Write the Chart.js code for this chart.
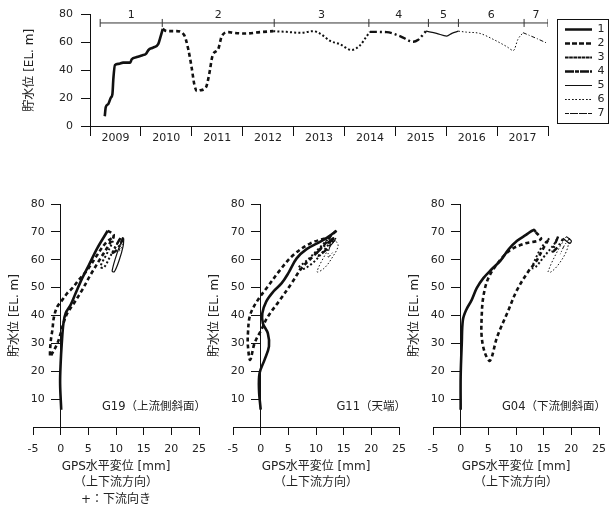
<!DOCTYPE html>
<html>
<head>
<meta charset="utf-8">
<script src="https://cdn.jsdelivr.net/npm/chart.js@4.4.0/dist/chart.umd.min.js"></script>
<style>
html, body { margin: 0; padding: 0; background: #fff; }
body { width: 609px; height: 511px; position: relative; overflow: hidden; }
canvas { position: absolute; }
</style>
</head>
<body>
<canvas id="level" width="609" height="150" style="left:0;top:0;width:609px;height:150px"></canvas>
<canvas id="g19" width="209" height="321" style="left:0;top:190px;width:209px;height:321px"></canvas>
<canvas id="g11" width="209" height="321" style="left:200px;top:190px;width:209px;height:321px"></canvas>
<canvas id="g04" width="209" height="321" style="left:400px;top:190px;width:209px;height:321px"></canvas>
<script>
// 貯水位の時系列 [年, EL. m]（期間1〜7）
const lv1 = [[2009.29,7],[2009.31,13.5],[2009.36,15.8],[2009.41,20.4],[2009.44,22.8],[2009.46,34.4],[2009.49,43.7],[2009.56,44.6],[2009.65,45.5],[2009.79,45.5],[2009.82,47.9],[2009.92,49.5],[2010.02,50.7],[2010.10,51.8],[2010.15,54.6],[2010.24,56.3],[2010.34,58.8],[2010.39,64.6],[2010.43,69.7]];
const lv2 = [[2010.43,69.7],[2010.51,68.1],[2010.70,68.1],[2010.85,65.3],[2010.93,55.3],[2011.00,41.4],[2011.05,29.8],[2011.10,25.1],[2011.16,25.6],[2011.28,27.9],[2011.34,36.7],[2011.41,50.7],[2011.52,55.3],[2011.59,64.6],[2011.72,67.4],[2011.82,66.9],[2012.05,66.4],[2012.34,67.4],[2012.60,68.1]];
const lv3 = [[2012.60,68.1],[2012.86,67.6],[2013.13,66.9],[2013.39,68.1],[2013.52,66.4],[2013.72,61.1],[2013.91,58.8],[2014.14,54.6],[2014.30,57.7],[2014.44,64.6],[2014.50,67.6]];
const lv4 = [[2014.50,67.6],[2014.83,67.4],[2015.09,64.6],[2015.35,60.5],[2015.45,61.9],[2015.52,64.6],[2015.60,68.1]];
const lv5 = [[2015.60,68.1],[2015.81,66.5],[2016.01,64.6],[2016.11,66.5],[2016.24,68.1]];
const lv6 = [[2016.24,68.1],[2016.40,67.4],[2016.66,66.5],[2016.92,62.3],[2017.19,57],[2017.32,54.2],[2017.41,62.3],[2017.51,67]];
const lv7 = [[2017.51,67],[2017.78,62.8],[2017.98,59.5]];

// 期間の区切り
const periodEdges = [2009.2, 2010.42, 2012.62, 2014.48, 2015.65, 2016.24, 2017.53, 2018.0];
const periodNames = ['1', '2', '3', '4', '5', '6', '7'];
const periodBarLevel = 74;
const years = [2009, 2010, 2011, 2012, 2013, 2014, 2015, 2016, 2017];

// GPS水平変位 [mm] と 貯水位 [EL. m]
const g19_1 = [[0.1,6.2],[-0.1,15.7],[0,23],[0.2,30],[0.5,37.2],[0.9,40.8],[1.8,43.8],[2.7,48],[3.9,53.4],[5.1,58.1],[6.6,64.1],[8.5,70.4]];
const g19_2 = [[8.5,70.4],[9.6,68.9],[8.7,65.3],[7.2,60.5],[5.4,54.6],[3.9,49.2],[2.4,44.4],[1.2,40.8],[0.5,37.2],[0,33.6],[-0.6,30],[-1.5,26.5],[-1.9,25.3],[-1.8,30.6],[-1.5,34.8],[-1.2,39.6],[-0.6,43.2],[0.3,45.6],[1.2,48],[2.1,49.8],[3.3,52.8],[4.8,56.3],[6.6,61.7],[8.1,65.9],[9.6,68.3]];
const g19_3 = [[9.6,68.3],[9.3,66],[8.3,62],[7.2,57.5],[7.8,57.2],[8.9,61],[10,65],[10.8,67.8]];
const g19_4 = [[10.8,67.8],[10.0,65],[9.4,62.5],[10.1,63.5],[11,66.5],[11.3,68]];
const g19_5 = [[11.3,68],[10.3,63],[9.3,56],[9.7,55.7],[10.6,60],[11.3,65],[11.4,67.5]];
const g19_6 = [[11.4,67.5],[10.8,66],[10.5,63],[11,64.5],[11.2,67]];
const g19_7 = [[11.2,67],[10.9,65.5],[10.6,63.5]];

const g11_1 = [[0,6.2],[-0.3,13.3],[-0.2,19.3],[0.7,24.1],[1.5,28.9],[1.3,33.6],[0.4,37.2],[0.3,40.8],[1.0,45],[2.3,48.6],[3.8,51.6],[5,55.2],[6.5,60.5],[8.3,63.8],[10.8,66.5],[12.3,68.3],[13.7,70.4]];
const g11_2 = [[13.7,70.4],[12.4,68.3],[9,65.9],[5.9,61.7],[3.5,56.3],[1.3,50.4],[-0.5,45.6],[-1.9,40.2],[-2.3,33.6],[-2.3,29],[-1.9,24.1],[-1.1,30.1],[0.1,34.8],[1.3,39.6],[3.5,45.6],[5.6,51.6],[7.4,57],[10,62.3],[11.7,65.9],[12.6,68.3]];
const g11_3 = [[12.6,68.3],[10.5,64],[8.5,60],[6.8,57],[7.5,56.5],[9.5,59],[11.5,63.5],[13,67.5]];
const g11_4 = [[13,67.5],[11.5,65],[10,62],[10.5,61.5],[12.5,65],[13.2,68]];
const g11_5 = [[13.2,68],[12.4,66.3],[12.8,65.5],[13.6,67.8]];
const g11_6 = [[13.6,67.8],[12,63],[10.2,55.7],[11.5,57],[13,61],[14,65],[13.5,67]];
const g11_7 = [[13.5,67],[12.5,64.5],[12.2,61],[13.2,63]];

const g04_1 = [[0,6.2],[0,18],[0.2,30],[0.4,38.4],[1.0,42],[2.0,45.6],[2.9,49.8],[4.1,53.4],[5.6,56.6],[7.2,59.7],[8.7,63.8],[10.2,66.8],[11.8,68.9],[13.2,70.7],[13.6,69.9]];
const g04_2 = [[13.6,69.9],[14.5,67.4],[11.4,65.7],[9,63.5],[6.9,59.3],[5,53.4],[4.1,46.8],[3.8,39.6],[3.8,32.4],[4.4,26.5],[5.3,23.8],[6.6,32.4],[8.4,40.8],[10.2,49.2],[12.4,56.3],[13.6,59.3],[15.1,64.7],[16,67.7]];
const g04_3 = [[16,67.7],[14.5,64.1],[13.3,59.3],[13,57],[13.6,57.5],[15.1,61.2],[17,65.9],[17.6,68.3]];
const g04_4 = [[17.6,68.3],[16.6,63],[17.5,64.5],[18.5,67.5]];
const g04_5 = [[18.5,67.7],[19.7,65.9],[20,66.8],[19.1,68.3]];
const g04_6 = [[19.1,68.3],[17.6,63.5],[15.8,55.7],[16.3,55.6],[17.6,58.1],[19.1,63],[19.7,67.7]];
const g04_7 = [[19.7,67.7],[18.7,65],[18,62]];

// 期間ごとの線種
const lineWidths = [2.6, 2.6, 2, 2.4, 1.2, 1, 1];
const lineDashes = [[], [4, 3], [2, 2.2], [7, 3, 2, 3], [], [1.5, 2], [4, 2, 1, 2]];

const FONT = "'DejaVu Sans', 'Noto Sans CJK JP', sans-serif";
const INK = '#111';
Chart.defaults.font.family = FONT;
Chart.defaults.font.size = 11;
Chart.defaults.color = '#222';

function pts(arr) {
    return arr.map(function (p) { return { x: p[0], y: p[1] }; });
}

function periodSets(series, tension) {
    return series.map(function (s, i) {
        return {
            label: periodNames[i],
            data: pts(s),
            borderColor: INK,
            backgroundColor: INK,
            borderWidth: lineWidths[i],
            borderDash: lineDashes[i],
            pointRadius: 0,
            showLine: true,
            tension: tension,
            cubicInterpolationMode: tension ? 'default' : 'monotone'
        };
    });
}

// 期間番号ラベル
const periodLabels = {
    id: 'periodLabels',
    afterDatasetsDraw(chart) {
        const { ctx, scales } = chart;
        ctx.save();
        ctx.fillStyle = '#222';
        ctx.font = '11px ' + FONT;
        ctx.textAlign = 'center';
        ctx.textBaseline = 'middle';
        for (let i = 0; i < periodNames.length; i++) {
            const x = scales.x.getPixelForValue((periodEdges[i] + periodEdges[i + 1]) / 2);
            const y = scales.y.getPixelForValue(periodBarLevel) - 8;
            ctx.fillText(periodNames[i], x, y);
        }
        ctx.restore();
    }
};

// 凡例の枠
const legendFrame = {
    id: 'legendFrame',
    afterDraw(chart) {
        const boxes = chart.legend.legendHitBoxes;
        if (!boxes || !boxes.length) return;
        let l = Infinity, t = Infinity, r = -Infinity, b = -Infinity;
        boxes.forEach(function (h) {
            l = Math.min(l, h.left); t = Math.min(t, h.top);
            r = Math.max(r, h.left + h.width); b = Math.max(b, h.top + h.height);
        });
        const ctx = chart.ctx;
        ctx.save();
        ctx.strokeStyle = INK;
        ctx.lineWidth = 1;
        ctx.strokeRect(Math.round(l - 8) + 0.5, Math.round(t - 5) + 0.5, Math.round(r - l + 12), Math.round(b - t + 9));
        ctx.restore();
    }
};

const levelSets = periodSets([lv1, lv2, lv3, lv4, lv5, lv6, lv7], 0);
levelSets.push({
    label: 'periods',
    data: periodEdges.map(function (x) { return { x: x, y: periodBarLevel }; }),
    borderColor: '#333',
    borderWidth: 1,
    pointStyle: 'line',
    rotation: 90,
    pointRadius: 4,
    pointBorderWidth: 1,
    pointBorderColor: '#333',
    tension: 0
});

const yearTicks = [];
years.forEach(function (y) { yearTicks.push(y, y + 0.5); });
yearTicks.push(years[years.length - 1] + 1);

new Chart(document.getElementById('level').getContext('2d'), {
    type: 'line',
    data: { datasets: levelSets },
    plugins: [periodLabels, legendFrame],
    options: {
        responsive: false,
        animation: false,
        layout: { padding: { left: 0, right: 0, top: 11, bottom: 0 } },
        plugins: {
            tooltip: { enabled: false },
            legend: {
                position: 'right',
                align: 'start',
                maxWidth: 47,
                title: { display: true, text: ' ', font: { size: 10, lineHeight: 1 }, padding: 0 },
                labels: {
                    boxWidth: 27,
                    boxHeight: 0,
                    padding: 3,
                    color: '#222',
                    font: { size: 11 },
                    filter: function (item) { return item.text !== 'periods'; }
                }
            }
        },
        scales: {
            x: {
                type: 'linear',
                min: 2009,
                max: 2018,
                afterBuildTicks: function (scale) {
                    scale.ticks = yearTicks.map(function (v) { return { value: v }; });
                },
                afterFit: function (scale) { scale.height = 24; },
                grid: {
                    drawOnChartArea: false,
                    tickLength: 10,
                    tickColor: function (c) {
                        return c.tick && c.tick.value % 1 === 0 ? INK : 'rgba(0,0,0,0)';
                    }
                },
                border: { color: INK },
                ticks: {
                    autoSkip: false,
                    maxRotation: 0,
                    padding: -4,
                    color: '#222',
                    callback: function (v) { return v % 1 === 0.5 ? String(v - 0.5) : ''; }
                }
            },
            y: {
                min: 0,
                max: 80,
                afterFit: function (scale) { scale.width = 90; },
                grid: { drawOnChartArea: false, tickLength: 9, tickColor: INK },
                border: { color: INK },
                ticks: { stepSize: 10, padding: 8, color: '#222' },
                title: {
                    display: true,
                    text: '貯水位 [EL. m]',
                    color: '#222',
                    font: { size: 12 },
                    padding: { top: 23, bottom: 0 }
                }
            },
            gap: {
                position: 'right',
                afterFit: function (scale) { scale.width = 14; },
                grid: { display: false },
                border: { display: false },
                ticks: { display: false }
            }
        }
    }
});

// 下段グラフ: 縦軸の目盛ラベル（x=0 の軸の左）、縦軸タイトル、測点名
const sideText = {
    id: 'sideText',
    afterDraw(chart, args, opts) {
        const { ctx, chartArea, scales } = chart;
        const axisX = scales.x.getPixelForValue(0);
        ctx.save();
        ctx.fillStyle = '#222';
        ctx.font = '11px ' + FONT;
        ctx.textAlign = 'right';
        ctx.textBaseline = 'middle';
        scales.y.ticks.forEach(function (t) {
            if (t.value) ctx.fillText(String(t.value), axisX - 16, scales.y.getPixelForValue(t.value));
        });
        ctx.restore();

        ctx.save();
        ctx.fillStyle = '#222';
        ctx.font = '12px ' + FONT;
        ctx.textAlign = 'center';
        ctx.textBaseline = 'middle';
        ctx.translate(chartArea.left - 18, (chartArea.top + chartArea.bottom) / 2);
        ctx.rotate(-Math.PI / 2);
        ctx.fillText('貯水位 [EL. m]', 0, 0);
        ctx.restore();

        ctx.save();
        ctx.fillStyle = '#222';
        ctx.font = '11.5px ' + FONT;
        ctx.textAlign = 'right';
        ctx.textBaseline = 'middle';
        ctx.fillText(opts.tag, chartArea.right + 7, chartArea.bottom - 20);
        ctx.restore();
    }
};

function gpsChart(id, tag, series, xTitle) {
    new Chart(document.getElementById(id).getContext('2d'), {
        type: 'scatter',
        data: { datasets: periodSets(series, 0.35) },
        plugins: [sideText],
        options: {
            responsive: false,
            animation: false,
            layout: { padding: { left: 33, right: 10, top: 14, bottom: 0 } },
            plugins: {
                legend: { display: false },
                tooltip: { enabled: false },
                sideText: { tag: tag }
            },
            scales: {
                x: {
                    type: 'linear',
                    min: -5,
                    max: 25,
                    afterFit: function (scale) {
                        scale.height = 84;
                        scale.paddingLeft = 0;
                        scale.paddingRight = 0;
                    },
                    grid: { drawOnChartArea: false, tickLength: 8, tickColor: INK },
                    border: { color: INK },
                    ticks: { stepSize: 5, padding: 8, color: '#222', maxRotation: 0 },
                    title: {
                        display: true,
                        text: xTitle,
                        color: '#222',
                        font: { size: 12, lineHeight: 1.4 },
                        padding: { top: 0, bottom: 2.6 + (3 - xTitle.length) * 16.8 }
                    }
                },
                y: {
                    type: 'linear',
                    position: { x: 0 },
                    min: 0,
                    max: 80,
                    grid: { drawOnChartArea: false, tickLength: 9, tickColor: INK },
                    border: { color: INK },
                    ticks: {
                        stepSize: 10,
                        callback: function () { return ''; }
                    }
                }
            }
        }
    });
}

gpsChart('g19', 'G19（上流側斜面）', [g19_1, g19_2, g19_3, g19_4, g19_5, g19_6, g19_7],
    ['GPS水平変位 [mm]', '（上下流方向）', '+：下流向き']);
gpsChart('g11', 'G11（天端）', [g11_1, g11_2, g11_3, g11_4, g11_5, g11_6, g11_7],
    ['GPS水平変位 [mm]', '（上下流方向）']);
gpsChart('g04', 'G04（下流側斜面）', [g04_1, g04_2, g04_3, g04_4, g04_5, g04_6, g04_7],
    ['GPS水平変位 [mm]', '（上下流方向）']);
</script>
</body>
</html>
